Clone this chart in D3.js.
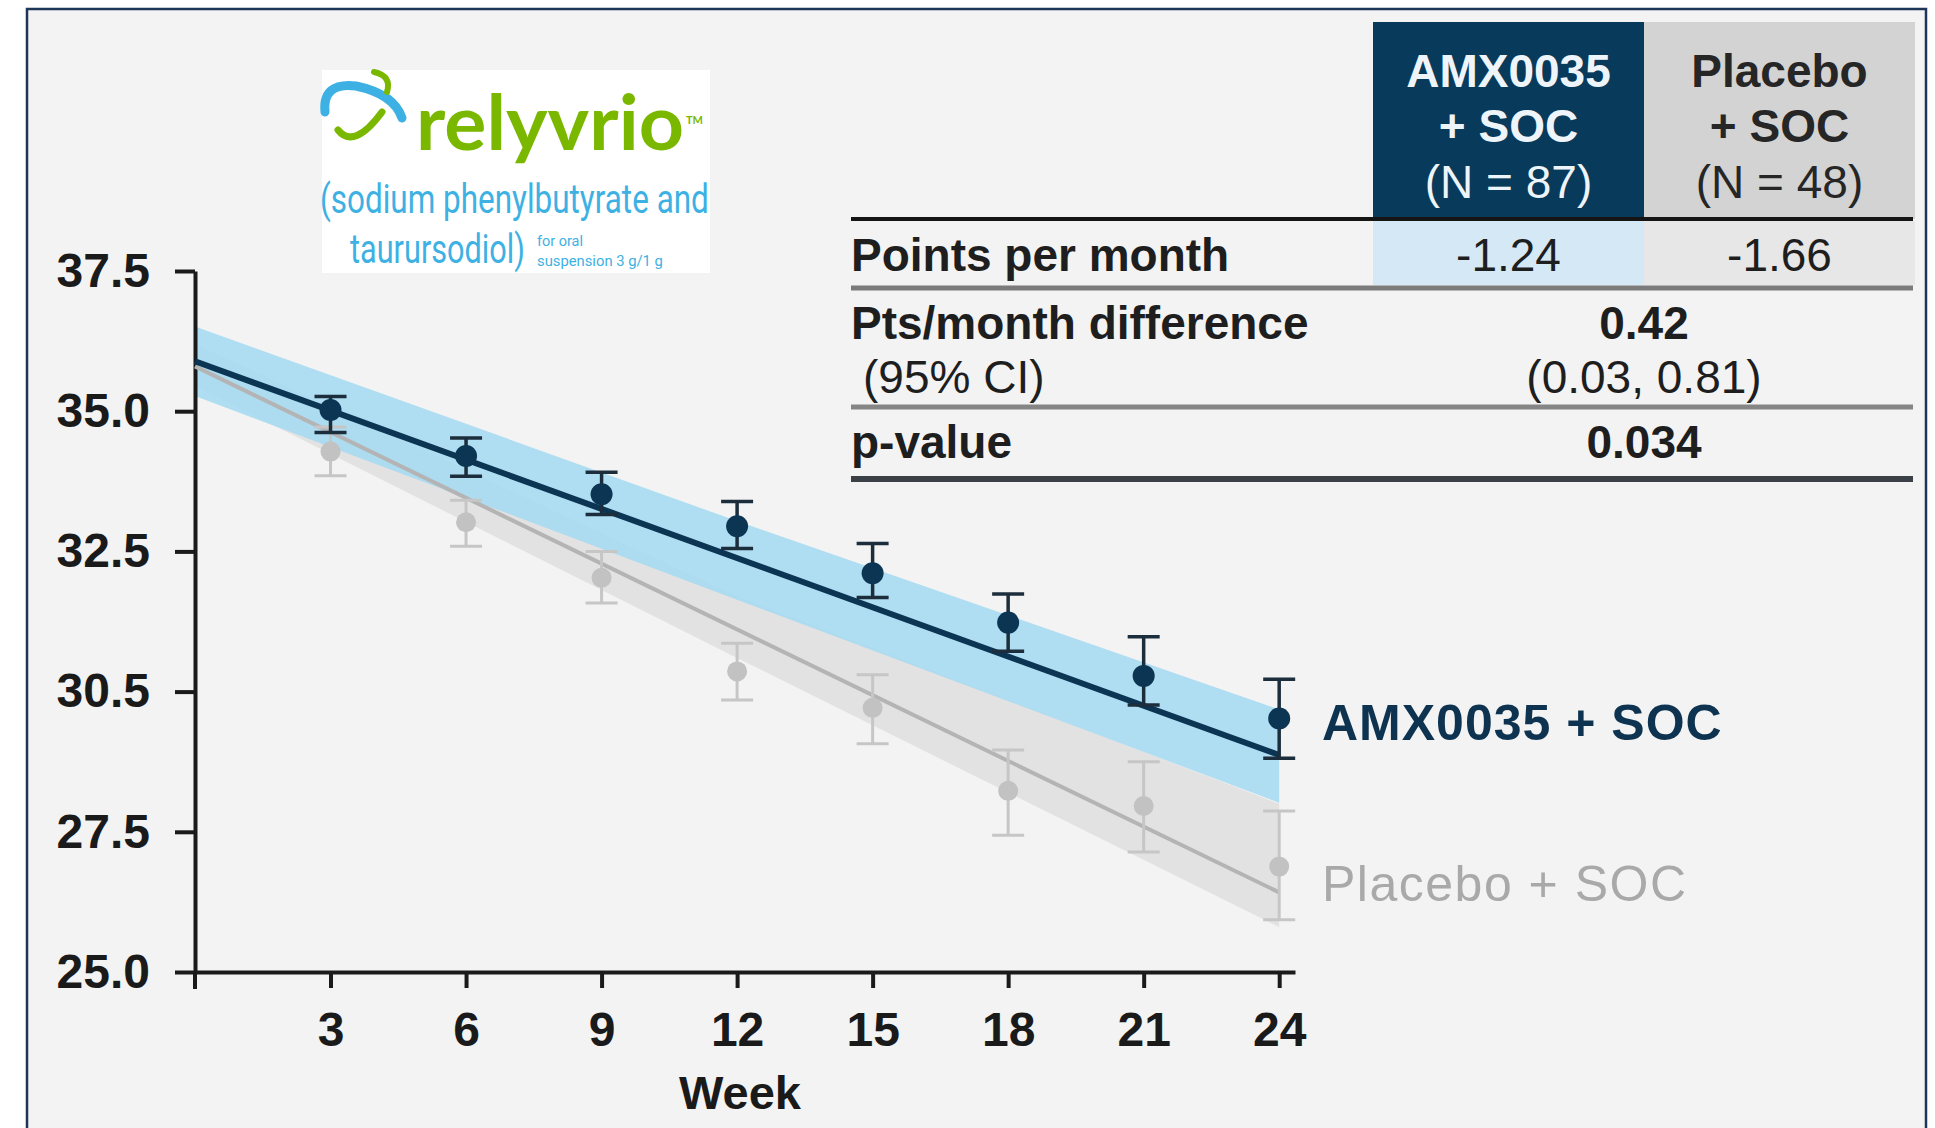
<!DOCTYPE html>
<html>
<head>
<meta charset="utf-8">
<script src="https://cdn.jsdelivr.net/npm/d3@7"></script>
<style>
  html, body { margin: 0; padding: 0; background: #ffffff; }
  svg { display: block; }
  text { font-family: "Liberation Sans", Arial, Helvetica, sans-serif; }
</style>
</head>
<body>
<svg id="chart" width="1935" height="1128"></svg>
<script>
// ---------------- data ----------------
const weeks = [3, 6, 9, 12, 15, 18, 21, 24];

// observed means with error bars, AMX0035 + SOC
const amxMean  = [35.02, 34.20, 33.52, 32.95, 32.11, 31.23, 30.28, 29.52];
const amxUpper = [35.26, 34.52, 33.91, 33.39, 32.64, 31.74, 30.98, 30.22];
const amxLower = [34.62, 33.84, 33.16, 32.55, 31.68, 30.72, 29.76, 28.81];

// observed means with error bars, Placebo + SOC
const pboMean  = [34.28, 33.02, 32.03, 30.36, 29.71, 28.23, 27.96, 26.88];
const pboUpper = [34.72, 33.41, 32.50, 30.86, 30.30, 28.96, 28.75, 27.87];
const pboLower = [33.85, 32.59, 31.58, 29.85, 29.07, 27.44, 27.14, 25.93];

// fitted slopes (week 0 and week 24)
const fitWeeks = [0, 24];
const amxFit = [35.89, 28.87];
const pboFit = [35.80, 26.42];

// confidence bands around the fitted slopes
const bandWeeks = [0, 12, 24];
const amxBandUpper = [36.51, 33.04, 29.68];
const amxBandLower = [35.27, 31.64, 28.02];
const pboBandUpper = [36.20, 31.70, 28.00];
const pboBandLower = [35.45, 30.60, 25.80];

// axis ticks
const xTickValues = [3, 6, 9, 12, 15, 18, 21, 24];
const yTickValues = [25, 27.5, 30, 32.5, 35, 37.5];
const yTickLabels = ["25.0", "27.5", "30.5", "32.5", "35.0", "37.5"];
const xAxisTitle = "Week";

// series labels
const seriesNames = ["AMX0035 + SOC", "Placebo + SOC"];

// summary table
const headerLines = [["AMX0035", "+ SOC", "(N = 87)"], ["Placebo", "+ SOC", "(N = 48)"]];
const pointsPerMonth = ["-1.24", "-1.66"];
const rowLabels = ["Points per month", "Pts/month difference", "(95% CI)", "p-value"];
const difference = "0.42";
const differenceCI = "(0.03, 0.81)";
const pValue = "0.034";

// brand mark text
const brandName = "relyvrio";
const genericLines = ["(sodium phenylbutyrate and", "taurursodiol)"];
const doseLines = ["for oral", "suspension 3 g/1 g"];

// ---------------- colours ----------------
const navy = "#0b3553";
const navyBar = "#1c2d3c";
const grey = "#b4b4b4";
const greyPoint = "#c2c2c2";
const blueBand = "#a5d9f1";
const greyBand = "#e2e2e2";

// ---------------- layout ----------------
const svg = d3.select("#chart");

// panel
svg.append("rect")
  .attr("x", 27).attr("y", 9).attr("width", 1899).attr("height", 1140)
  .attr("fill", "#f3f3f3").attr("stroke", "#1d3557").attr("stroke-width", 2.5);

const x = d3.scaleLinear().domain([0, 24.35]).range([195, 1295]);
const y = d3.scaleLinear().domain([25, 37.5]).range([972, 271]);

// bands
const bandArea = (lo, hi) => d3.area()
  .x((d, i) => x(bandWeeks[i]))
  .y0((d, i) => y(lo[i]))
  .y1((d, i) => y(hi[i]))(bandWeeks);

svg.append("path").attr("d", bandArea(pboBandLower, pboBandUpper)).attr("fill", greyBand);
svg.append("path").attr("d", bandArea(amxBandLower, amxBandUpper))
  .attr("fill", blueBand).attr("fill-opacity", 0.88);

// fitted lines
const fitLine = vals => d3.line()
  .x((d, i) => x(fitWeeks[i]))
  .y((d, i) => y(vals[i]))(fitWeeks);

// axes
const yAxis = d3.axisLeft(y)
  .tickValues(yTickValues)
  .tickFormat((d, i) => yTickLabels[i])
  .tickSize(20).tickPadding(25).tickSizeOuter(0);
const xAxis = d3.axisBottom(x)
  .tickValues(xTickValues)
  .tickFormat(d3.format("d"))
  .tickSize(16).tickPadding(24).tickSizeOuter(0);

function styleAxis(g) {
  g.select(".domain").attr("stroke", "#1a1a1a").attr("stroke-width", 4);
  g.selectAll(".tick line").attr("stroke", "#1a1a1a").attr("stroke-width", 4);
  g.selectAll(".tick text")
    .attr("fill", "#1a1a1a")
    .style("font-size", "48px").style("font-weight", "bold")
    .style("font-family", "'Liberation Sans', Arial, sans-serif");
}

const gx = svg.append("g").attr("transform", `translate(0,${y(25)})`).call(xAxis);
styleAxis(gx);
const gy = svg.append("g").attr("transform", `translate(${x(0)},0)`).call(yAxis);
styleAxis(gy);
// y axis runs a little past the x axis
svg.append("line")
  .attr("x1", x(0)).attr("x2", x(0))
  .attr("y1", y(25)).attr("y2", y(25) + 17)
  .attr("stroke", "#1a1a1a").attr("stroke-width", 4);

svg.append("text")
  .attr("x", 740).attr("y", 1109)
  .attr("text-anchor", "middle")
  .attr("fill", "#1a1a1a")
  .style("font-size", "47px").style("font-weight", "bold")
  .text(xAxisTitle);

// placebo line, error bars, points
svg.append("path").attr("d", fitLine(pboFit))
  .attr("fill", "none").attr("stroke", grey).attr("stroke-width", 4);

function drawSeries(mean, lo, hi, barColor, pointColor, r, sw) {
  const g = svg.append("g");
  weeks.forEach((w, i) => {
    const cx = x(w);
    g.append("line").attr("x1", cx).attr("x2", cx)
      .attr("y1", y(hi[i])).attr("y2", y(lo[i]))
      .attr("stroke", barColor).attr("stroke-width", sw);
    [hi[i], lo[i]].forEach(v => {
      g.append("line").attr("x1", cx - 16).attr("x2", cx + 16)
        .attr("y1", y(v)).attr("y2", y(v))
        .attr("stroke", barColor).attr("stroke-width", sw);
    });
  });
  g.selectAll("circle").data(mean).join("circle")
    .attr("cx", (d, i) => x(weeks[i]))
    .attr("cy", d => y(d))
    .attr("r", r)
    .attr("fill", pointColor);
}

drawSeries(pboMean, pboLower, pboUpper, "#c6c6c6", greyPoint, 10, 3);

// AMX line, error bars, points
svg.append("path").attr("d", fitLine(amxFit))
  .attr("fill", "none").attr("stroke", navy).attr("stroke-width", 6);
drawSeries(amxMean, amxLower, amxUpper, navyBar, navy, 11, 3.5);

// series labels
svg.append("text")
  .attr("x", 1322).attr("y", 740)
  .attr("fill", "#0d3350")
  .style("font-size", "50px").style("font-weight", "bold")
  .style("letter-spacing", "1px")
  .text(seriesNames[0]);
svg.append("text")
  .attr("x", 1322).attr("y", 901)
  .attr("fill", "#a9a9a9")
  .style("font-size", "50px")
  .style("letter-spacing", "1.5px")
  .text(seriesNames[1]);

// ---------------- summary table ----------------
const tLeft = 851, tRight = 1913;
const c1 = 1373, c2 = 1644, c3 = 1915;
const col1Mid = (c1 + c2) / 2, col2Mid = (c2 + c3) / 2;

svg.append("rect").attr("x", c1).attr("y", 22).attr("width", c2 - c1).attr("height", 197).attr("fill", "#083a5b");
svg.append("rect").attr("x", c2).attr("y", 22).attr("width", c3 - c2).attr("height", 197).attr("fill", "#d3d3d3");
svg.append("rect").attr("x", c1).attr("y", 221).attr("width", c2 - c1).attr("height", 64).attr("fill", "#d4e8f5");
svg.append("rect").attr("x", c2).attr("y", 221).attr("width", c3 - c2).attr("height", 64).attr("fill", "#e7e7e7");

const headerBaselines = [87, 142, 198];
headerLines.forEach((lines, ci) => {
  lines.forEach((t, li) => {
    svg.append("text")
      .attr("x", ci === 0 ? col1Mid : col2Mid)
      .attr("y", headerBaselines[li])
      .attr("text-anchor", "middle")
      .attr("fill", ci === 0 ? "#eef5fa" : "#262626")
      .style("font-size", "46px")
      .style("font-weight", li < 2 ? "bold" : "normal")
      .text(t);
  });
});

// rules
const rules = [
  { y: 219, w: 4, c: "#151515" },
  { y: 288, w: 5, c: "#7b7b7b" },
  { y: 407, w: 5, c: "#858585" },
  { y: 479, w: 6, c: "#3b4046" }
];
rules.forEach(r => {
  svg.append("line").attr("x1", tLeft).attr("x2", tRight)
    .attr("y1", r.y).attr("y2", r.y)
    .attr("stroke", r.c).attr("stroke-width", r.w);
});

const labelStyle = (sel, bold) => sel
  .attr("fill", "#1e1e1e")
  .style("font-size", "46px")
  .style("font-weight", bold ? "bold" : "normal");

const rowBaselines = [271, 339, 393, 458];
labelStyle(svg.append("text").attr("x", tLeft).attr("y", rowBaselines[0]).text(rowLabels[0]), true);
labelStyle(svg.append("text").attr("x", tLeft).attr("y", rowBaselines[1]).text(rowLabels[1]), true);
labelStyle(svg.append("text").attr("x", tLeft + 12).attr("y", rowBaselines[2]).text(rowLabels[2]), false);
labelStyle(svg.append("text").attr("x", tLeft).attr("y", rowBaselines[3]).text(rowLabels[3]), true);

pointsPerMonth.forEach((v, i) => {
  labelStyle(svg.append("text")
    .attr("x", i === 0 ? col1Mid : col2Mid).attr("y", rowBaselines[0])
    .attr("text-anchor", "middle").text(v), false);
});
labelStyle(svg.append("text").attr("x", c2).attr("y", rowBaselines[1]).attr("text-anchor", "middle").text(difference), true);
labelStyle(svg.append("text").attr("x", c2).attr("y", rowBaselines[2]).attr("text-anchor", "middle").text(differenceCI), false);
labelStyle(svg.append("text").attr("x", c2).attr("y", rowBaselines[3]).attr("text-anchor", "middle").text(pValue), true);

// ---------------- brand mark ----------------
const logo = svg.append("g");
logo.append("rect").attr("x", 322).attr("y", 70).attr("width", 388).attr("height", 203).attr("fill", "#ffffff");
logo.append("path").attr("d", "M325,112 Q322,82 356,86 Q394,94 402,118")
  .attr("fill", "none").attr("stroke", "#3db1e3").attr("stroke-width", 9).attr("stroke-linecap", "round");
logo.append("path").attr("d", "M374,72 Q392,76 387,92")
  .attr("fill", "none").attr("stroke", "#7ab800").attr("stroke-width", 6).attr("stroke-linecap", "round");
logo.append("path").attr("d", "M338,130 Q354,150 382,112")
  .attr("fill", "none").attr("stroke", "#7ab800").attr("stroke-width", 7).attr("stroke-linecap", "round");

// Sets a word in the given width: the font size is chosen so the natural
// advance matches the width, and the glyphs are stretched vertically to the
// requested size.
function fitText(g, str, left, baseline, width, size, family, weight, fill) {
  const t = g.append("text")
    .attr("x", 0).attr("y", 0)
    .attr("fill", fill)
    .style("font-family", family)
    .style("font-weight", weight)
    .style("font-size", size + "px")
    .text(str);
  const natural = t.node().getComputedTextLength();
  const f = size * width / natural;
  t.style("font-size", f + "px")
    .attr("transform", `translate(${left},${baseline}) scale(1,${size / f})`);
  return t;
}

const green = "#7ab800";
const logoBlue = "#3db1e3";
fitText(logo, brandName, 416, 150, 268, 76, "Lato, 'Open Sans', sans-serif", "bold", green);
logo.append("text").attr("x", 686).attr("y", 124)
  .attr("fill", green)
  .style("font-family", "Lato, sans-serif")
  .style("font-size", "11px").style("font-weight", "bold")
  .text("TM");

const cond = "Roboto, 'Open Sans', sans-serif";
fitText(logo, genericLines[0], 320, 213, 389, 40, cond, "normal", logoBlue);
fitText(logo, genericLines[1], 350, 263, 175, 41, cond, "normal", logoBlue);
fitText(logo, doseLines[0], 537, 246, 46, 14, cond, "normal", logoBlue);
fitText(logo, doseLines[1], 537, 266, 126, 14, cond, "normal", logoBlue);
</script>
</body>
</html>
